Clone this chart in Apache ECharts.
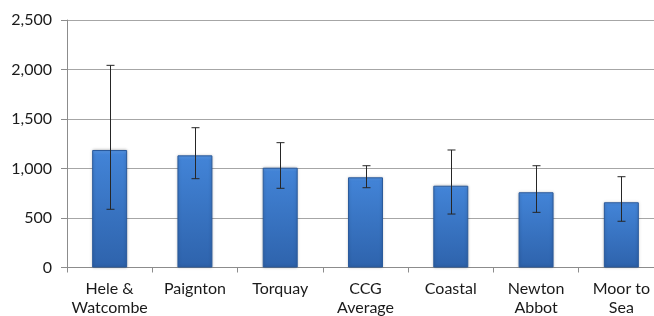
<!DOCTYPE html>
<html>
<head>
<meta charset="utf-8">
<script src="https://cdn.jsdelivr.net/npm/echarts@6/dist/echarts.min.js"></script>
<style>
  html, body { margin: 0; padding: 0; background: #fff; }
  #main { width: 654px; height: 316px; }
</style>
</head>
<body>
<div id="main"></div>
<script>
var categories = ['Hele &\nWatcombe', 'Paignton', 'Torquay', 'CCG\nAverage', 'Coastal', 'Newton\nAbbot', 'Moor to\nSea'];
var values = [1187, 1133, 1008, 911, 826, 760, 659];
var errLow = [588, 897, 800, 806, 540, 557, 467];
var errHigh = [2042, 1412, 1261, 1028, 1187, 1028, 917];

var chart = echarts.init(document.getElementById('main'));

// error bar ranges: [index, low, high]
var errData = categories.map(function (c, i) {
  return [i, errLow[i], errHigh[i]];
});

var barColor = new echarts.graphic.LinearGradient(0, 0, 0, 1, [
  { offset: 0, color: '#5898e8' },
  { offset: 0.04, color: '#4283d6' },
  { offset: 1, color: '#2e63ac' }
]);

var option = {
  animation: false,
  textStyle: { fontFamily: 'Lato' },
  grid: { left: 67, top: 20, width: 597, height: 247.5, outerBoundsMode: 'none' },
  xAxis: {
    type: 'category',
    data: categories,
    axisLine: { lineStyle: { color: '#8c8c8c' } },
    axisTick: { show: true, length: 5, lineStyle: { color: '#8c8c8c' } },
    axisLabel: { color: '#1a1a1a', fontSize: 16, lineHeight: 19, margin: 12, interval: 0 }
  },
  yAxis: {
    type: 'value',
    min: 0,
    max: 2500,
    interval: 500,
    axisLine: { show: true, lineStyle: { color: '#8c8c8c' } },
    axisTick: { show: true, length: 6, lineStyle: { color: '#8c8c8c' } },
    axisLabel: {
      color: '#1a1a1a', fontSize: 16, margin: 15, align: 'right',
      formatter: function (v) { return v.toLocaleString('en-GB'); }
    },
    splitLine: { lineStyle: { color: '#a6a6a6' } }
  },
  series: [
    {
      type: 'bar',
      data: values,
      barWidth: '41%',
      itemStyle: {
        color: barColor,
        borderColor: '#2a5a9c',
        borderWidth: 1,
        shadowColor: 'rgba(0,0,0,0.25)',
        shadowBlur: 3
      }
    },
    {
      type: 'custom',
      data: errData,
      z: 10,
      renderItem: function (params, api) {
        var lo = api.coord([api.value(0), api.value(1)]);
        var hi = api.coord([api.value(0), api.value(2)]);
        var x = Math.round(lo[0]) + 0.5;
        var cap = 4;
        var st = { stroke: '#262626', lineWidth: 1 };
        return {
          type: 'group',
          children: [
            { type: 'line', shape: { x1: x, y1: hi[1], x2: x, y2: lo[1] }, style: st },
            { type: 'line', shape: { x1: x - cap, y1: hi[1], x2: x + cap, y2: hi[1] }, style: st },
            { type: 'line', shape: { x1: x - cap, y1: lo[1], x2: x + cap, y2: lo[1] }, style: st }
          ]
        };
      }
    }
  ]
};

chart.setOption(option);
</script>
</body>
</html>
